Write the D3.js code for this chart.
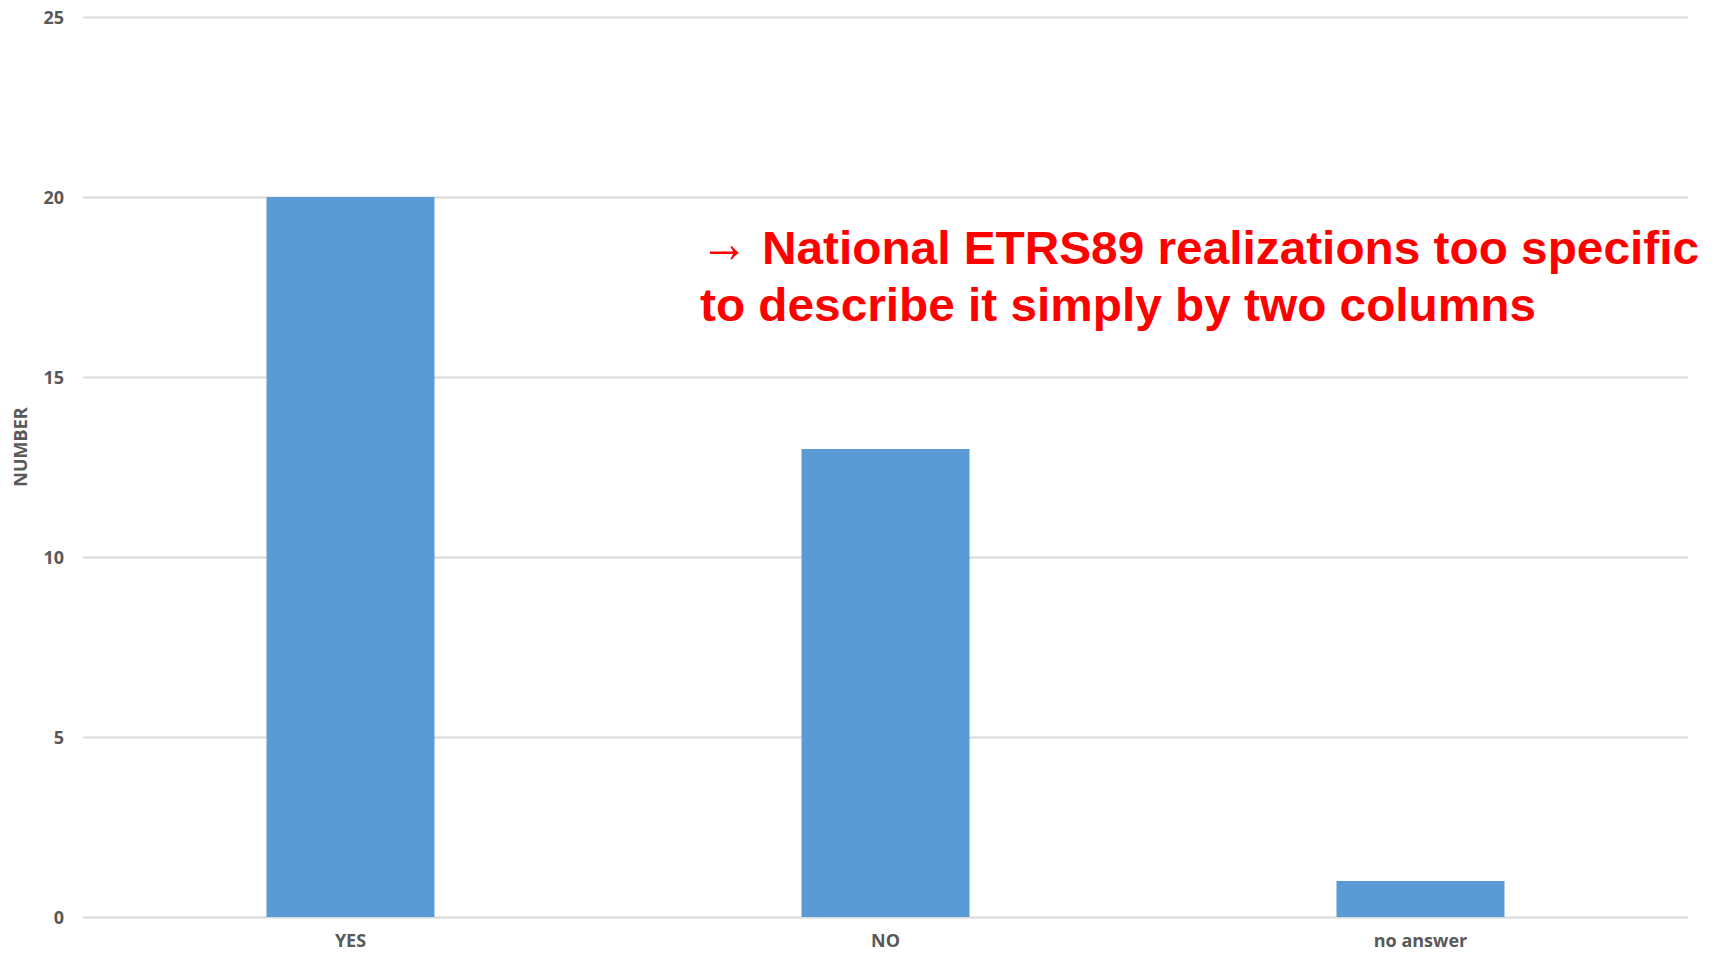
<!DOCTYPE html>
<meta charset="utf-8">
<script src="https://d3js.org/d3.v7.min.js"></script>
<style>
body { margin: 0; background: #fff; }
.tick text, .cat text, .ylab {
  font-family: "Open Sans", Lato, sans-serif;
  font-weight: bold;
  font-size: 18px;
  fill: #595959;
}
.note {
  font-family: "Liberation Sans", Arial, sans-serif;
  font-weight: bold;
  font-size: 46px;
  fill: #ff0000;
}
</style>

<div id="chart"></div>

<script>

var categories = ["YES", "NO", "no answer"];
var counts = [20, 13, 1];
var yTicks = [0, 5, 10, 15, 20, 25];
var noteLines = ["National ETRS89 realizations too specific",
                 "to describe it simply by two columns"];

var W = 1717, H = 954;
var margin = {top: 17, right: 29, bottom: 37, left: 83},
    width = W - margin.left - margin.right,
    height = H - margin.top - margin.bottom;

var svg = d3.select("#chart")
  .append("svg")
    .attr("width", W)
    .attr("height", H)
  .append("g")
    .attr("transform", "translate(" + margin.left + "," + margin.top + ")");

var x = d3.scaleBand()
  .domain(categories)
  .range([0, width])
  .padding(0);

var y = d3.scaleLinear()
  .domain([0, 25])
  .range([height, 0]);

// grid lines + y labels
var yAxis = svg.append("g")
  .call(d3.axisLeft(y).tickValues(yTicks).tickSize(-width).tickPadding(19));
yAxis.select(".domain").remove();
yAxis.selectAll(".tick line")
  .attr("stroke", "#d9d9d9")
  .attr("stroke-width", 2);
yAxis.selectAll(".tick text").attr("dy", "0.35em");

// bars
var barW = x.bandwidth() * 0.314;
svg.append("g")
  .selectAll("rect")
  .data(categories)
  .enter()
  .append("rect")
    .attr("x", function (d) { return x(d) + (x.bandwidth() - barW) / 2; })
    .attr("y", function (d, i) { return y(counts[i]); })
    .attr("width", barW)
    .attr("height", function (d, i) { return height - y(counts[i]); })
    .attr("fill", "#5b9bd5");

// category labels
var xAxis = svg.append("g")
  .attr("class", "cat")
  .attr("transform", "translate(0," + height + ")")
  .call(d3.axisBottom(x).tickSize(0).tickPadding(17));
xAxis.select(".domain").remove();

// y title
svg.append("text")
  .attr("class", "ylab")
  .attr("transform", "translate(" + (27 - margin.left) + "," + (447 - margin.top) + ") rotate(-90)")
  .attr("text-anchor", "middle")
  .text("NUMBER");

// annotation (arrow drawn as its own text so it can be larger)
var note = svg.append("g");
note.append("text")
  .attr("class", "note")
  .attr("x", 700 - margin.left)
  .attr("y", 262 - margin.top)
  .attr("textLength", 48)
  .attr("lengthAdjust", "spacingAndGlyphs")
  .style("font-weight", "normal")
  .style("font-size", "56px")
  .text("\u2192");

var noteX = [762, 700], noteW = [937, 836];
note.selectAll("text.line")
  .data(noteLines)
  .enter()
  .append("text")
    .attr("class", "note line")
    .attr("x", function (d, i) { return noteX[i] - margin.left; })
    .attr("y", function (d, i) { return 264 - margin.top + i * 57; })
    .attr("textLength", function (d, i) { return noteW[i]; })
    .attr("lengthAdjust", "spacingAndGlyphs")
    .text(function (d) { return d; });

</script>
